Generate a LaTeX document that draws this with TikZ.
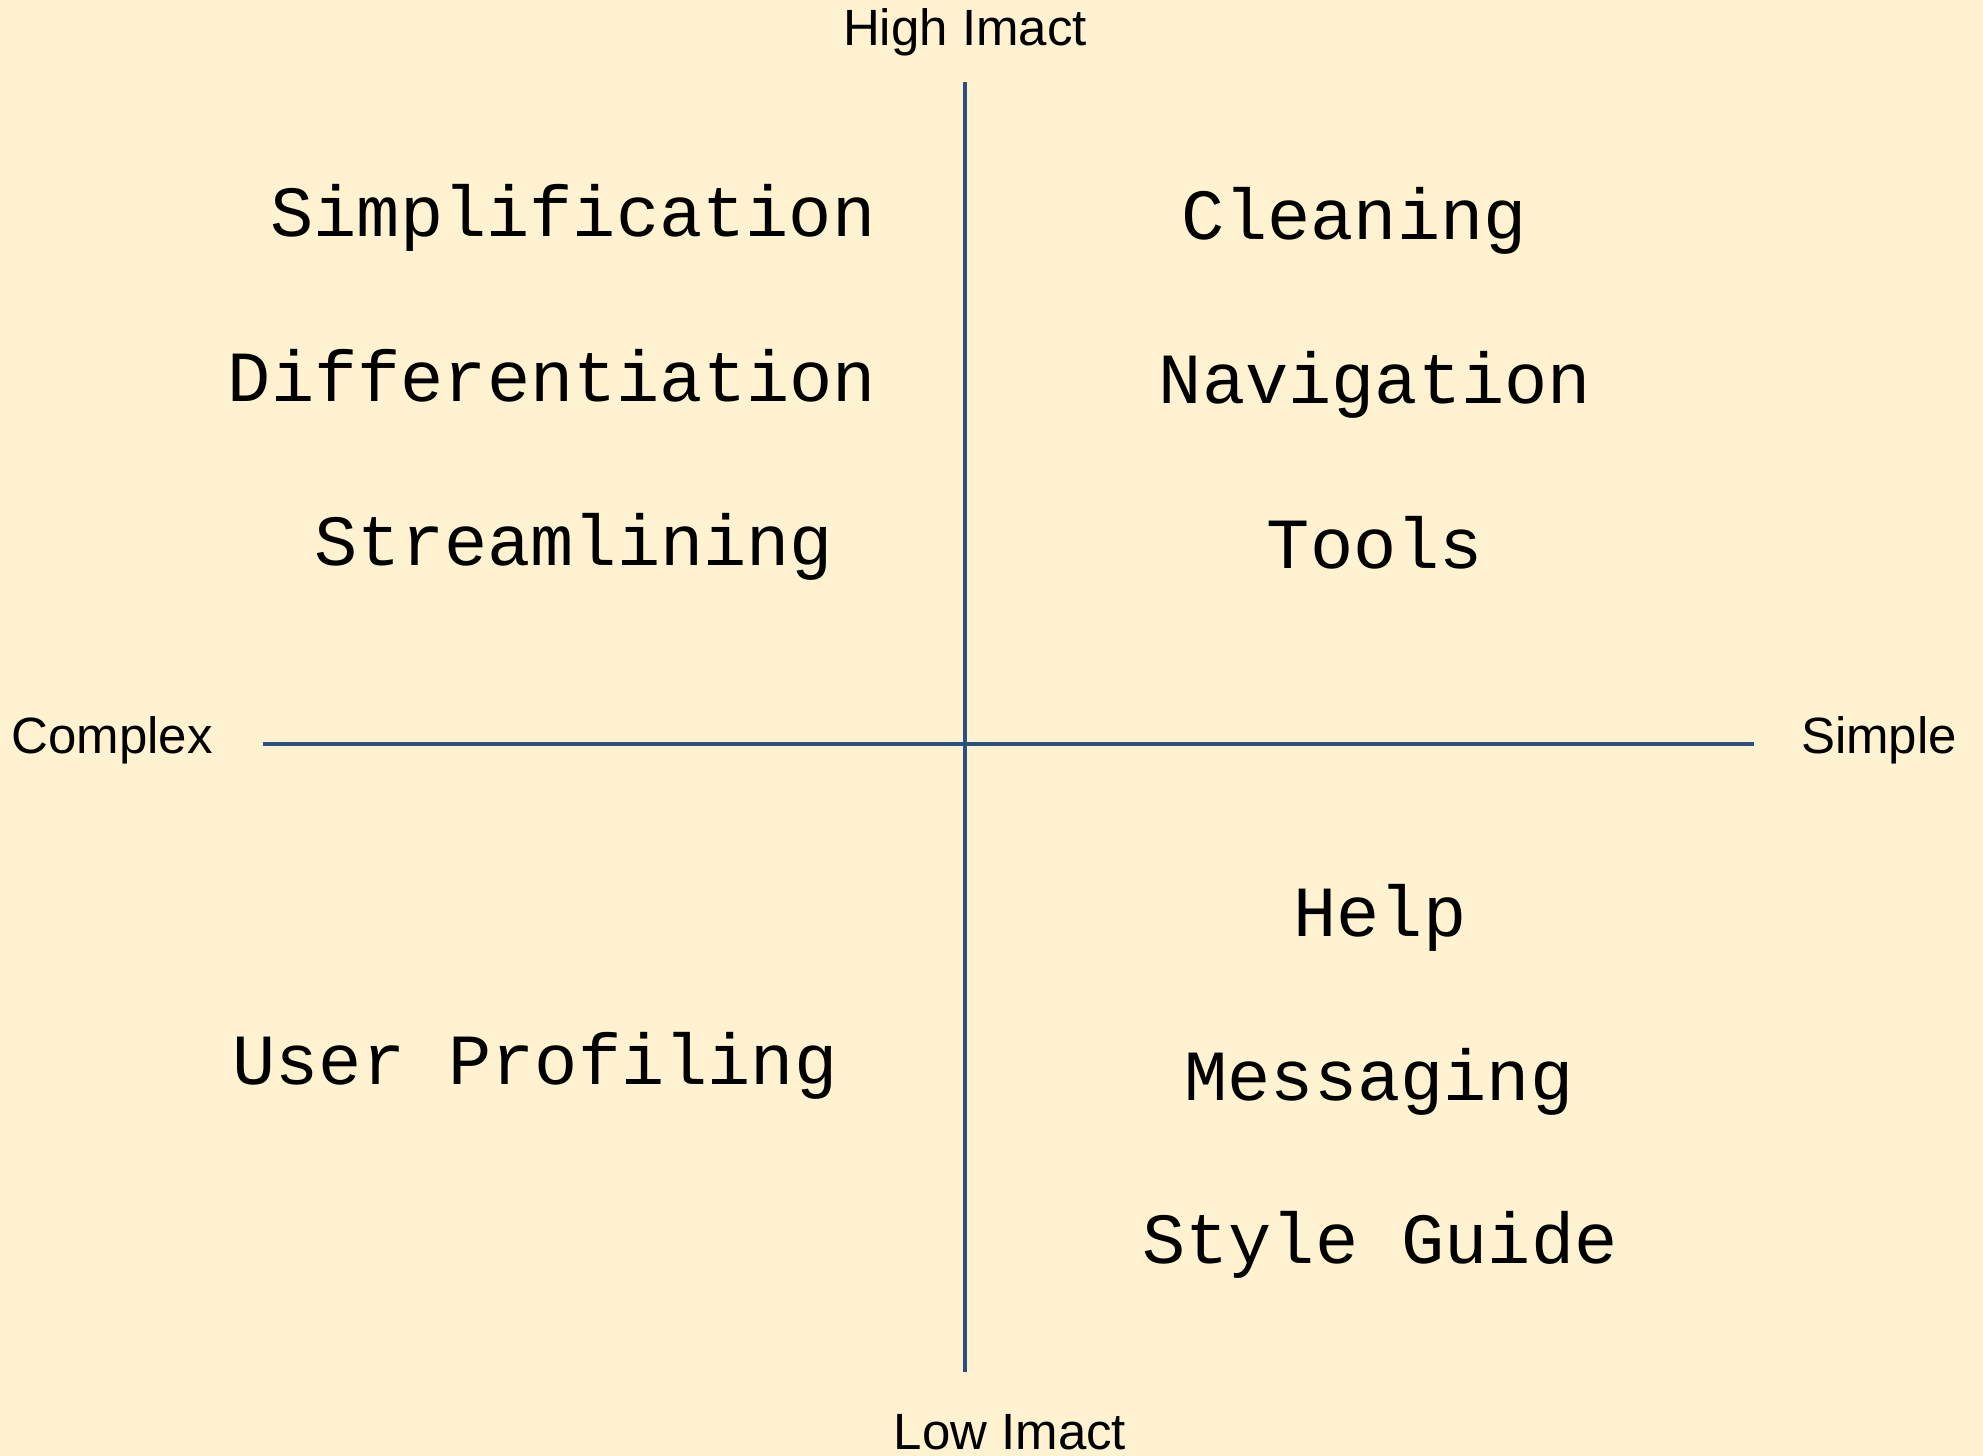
\documentclass[tikz,border=0pt]{standalone}
\usepackage{fontspec}
\setmainfont{Liberation Sans}
\newfontfamily\monofont{Liberation Mono}
\definecolor{bgcream}{HTML}{FFF2D0}
\definecolor{axisblue}{HTML}{2A5082}
\begin{document}
\begin{tikzpicture}[x=0.5pt,y=-0.5pt,
  axislabel/.style={font=\fontsize{25.5pt}{30pt}\selectfont, inner sep=0pt, anchor=base},
  item/.style={font=\monofont\fontsize{36pt}{42pt}\selectfont, inner sep=0pt, anchor=base},
  axisline/.style={draw=axisblue, line width=1.6pt}]
\fill[bgcream] (0,0) rectangle (1983,1456);
\useasboundingbox (0,0) rectangle (1983,1456);
% axes
\coordinate (top) at (965,82);
\coordinate (bottom) at (965,1372);
\coordinate (left) at (263,744);
\coordinate (right) at (1754,744);
\draw[axisline] (top) -- (bottom);
\draw[axisline] (left) -- (right);
% axis labels
\node[axislabel] (hi) at (965,46) {High Imact};
\node[axislabel] (lo) at (1010,1449) {Low Imact};
\node[axislabel] (cx) at (112,753) {Complex};
\node[axislabel] (si) at (1879,753) {Simple};
% items
\node[item] (s1) at (573,236) {Simplification};
\node[item] (s2) at (552,401) {Differentiation};
\node[item] (s3) at (574,565) {Streamlining};
\node[item] (c1) at (1354,239) {Cleaning};
\node[item] (c2) at (1375,403) {Navigation};
\node[item] (c3) at (1375,568) {Tools};
\node[item] (h1) at (1380,936) {Help};
\node[item] (h2) at (1379,1100) {Messaging};
\node[item] (h3) at (1380,1263) {Style Guide};
\node[item] (u1) at (535,1084) {User Profiling};
\end{tikzpicture}
\end{document}
